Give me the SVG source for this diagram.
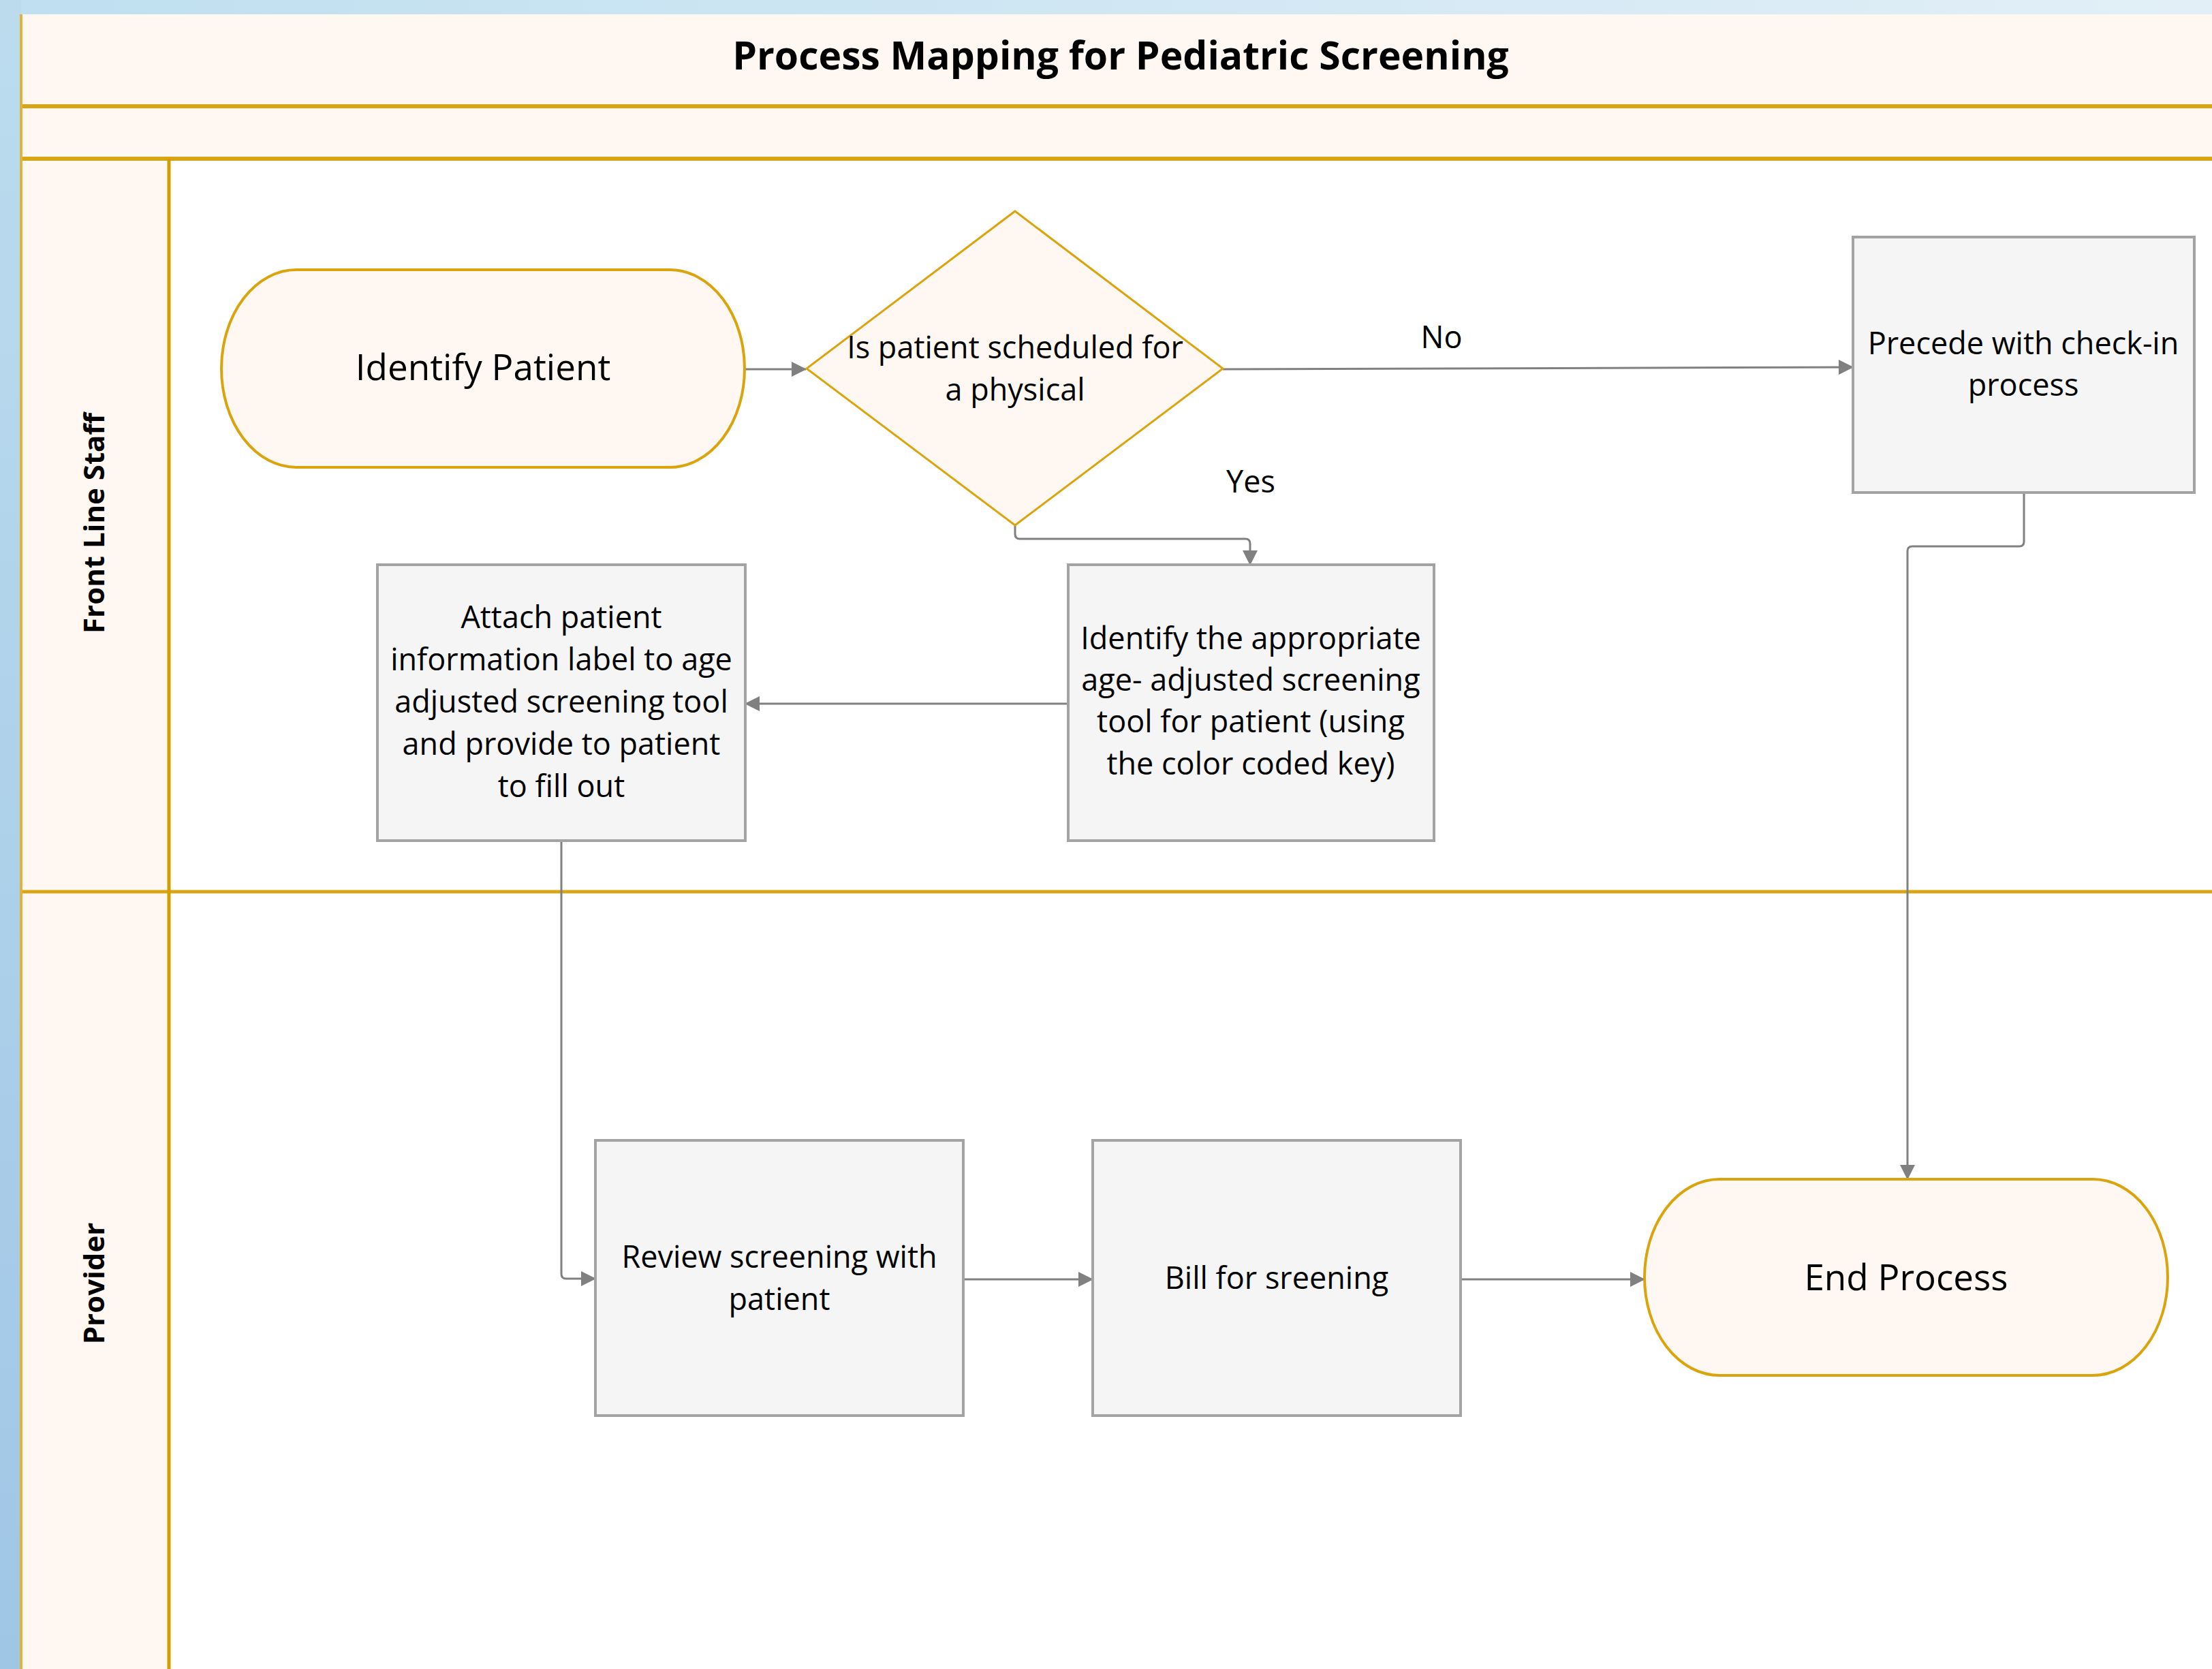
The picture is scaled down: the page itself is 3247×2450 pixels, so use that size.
<svg xmlns="http://www.w3.org/2000/svg" width="3247" height="2450" viewBox="0 0 3247 2450">
<defs>
<linearGradient id="bgTop" x1="0" y1="0" x2="1" y2="0">
<stop offset="0" stop-color="#bfdff0"/>
<stop offset="1" stop-color="#e2eff7"/>
</linearGradient>
<linearGradient id="bgLeft" x1="0" y1="0" x2="0" y2="1">
<stop offset="0" stop-color="#bcdcee"/>
<stop offset="1" stop-color="#a0c6e6"/>
</linearGradient>
<marker id="arr" markerUnits="userSpaceOnUse" markerWidth="22" markerHeight="22" refX="21" refY="11" orient="auto">
<path d="M0,0 L22,11 L0,22 z" fill="#808080"/>
</marker>
<style>
.cream{fill:#fff8f2}
.gold{stroke:#d9a514;fill:none}
.term{fill:#fff8f2;stroke:#d9a40e;stroke-width:4}
.box{fill:#f5f5f5;stroke:#a3a3a3;stroke-width:4}
.t{font-family:"Open Sans","Liberation Sans",sans-serif;fill:#000;text-anchor:middle}
.big{font-size:53px}
.mid{font-size:45px}
.bold{font-weight:700}
.conn{fill:none;stroke:#808080;stroke-width:3;marker-end:url(#arr)}
</style>
</defs>
<rect x="0" y="0" width="3247" height="21" fill="url(#bgTop)"/>
<rect x="0" y="0" width="31" height="2450" fill="url(#bgLeft)"/>
<g id="frame">
<rect x="31" y="21" width="3216" height="2429" class="cream"/>
<rect x="250" y="236" width="2997" height="2214" fill="#ffffff"/>
<line x1="31" y1="156" x2="3247" y2="156" class="gold" stroke-width="6"/>
<line x1="31" y1="233" x2="3247" y2="233" class="gold" stroke-width="6"/>
<line x1="31" y1="1309" x2="3247" y2="1309" class="gold" stroke-width="5"/>
<line x1="248" y1="233" x2="248" y2="2450" stroke="#d39e00" stroke-width="5"/>
<line x1="31" y1="21" x2="31" y2="2450" stroke="#e0b43c" stroke-width="4"/>
<text x="1645" y="102" class="t bold" font-size="57">Process Mapping for Pediatric Screening</text>
<text transform="translate(153,768) rotate(-90)" class="t bold" font-size="42">Front Line Staff</text>
<text transform="translate(153,1884) rotate(-90)" class="t bold" font-size="42">Provider</text>
</g>
<g id="connectors">
<path class="conn" d="M1093,542 L1183,542"/>
<path class="conn" d="M1795,542 L2720,539"/>
<path class="conn" d="M1490,771 L1490,784 Q1490,791 1497,791 L1828,791 Q1835,791 1835,798 L1835,829"/>
<path class="conn" d="M1568,1033 L1094,1033"/>
<path class="conn" d="M824,1234 L824,1870 Q824,1877 831,1877 L874,1877"/>
<path class="conn" d="M1414,1878 L1604,1878"/>
<path class="conn" d="M2144,1878 L2414,1878"/>
<path class="conn" d="M2971,723 L2971,795 Q2971,802 2964,802 L2807,802 Q2800,802 2800,809 L2800,1731"/>
<text x="2116" y="511" class="t mid">No</text>
<text x="1836" y="723" class="t mid">Yes</text>
</g>
<g id="identify-patient">
<rect x="325" y="396" width="768" height="290" rx="110" ry="145" class="term"/>
<text x="709" y="558" class="t big">Identify Patient</text>
</g>
<g id="decision">
<polygon points="1490,310 1795,541 1490,771 1184,541" fill="#fff8f2" stroke="#d9a40e" stroke-width="3"/>
<text class="t mid"><tspan x="1490" y="526">Is patient scheduled for</tspan><tspan x="1490" y="588">a physical</tspan></text>
</g>
<g id="check-in">
<rect x="2720" y="348" width="501" height="375" class="box"/>
<text class="t mid"><tspan x="2970" y="520">Precede with check-in</tspan><tspan x="2970" y="581">process</tspan></text>
</g>
<g id="identify-tool">
<rect x="1568" y="829" width="537" height="405" class="box"/>
<text class="t mid"><tspan x="1836" y="953">Identify the appropriate</tspan><tspan x="1836" y="1014">age- adjusted screening</tspan><tspan x="1836" y="1075">tool for patient (using</tspan><tspan x="1836" y="1137">the color coded key)</tspan></text>
</g>
<g id="attach-label">
<rect x="554" y="829" width="540" height="405" class="box"/>
<text class="t mid"><tspan x="824" y="922">Attach patient</tspan><tspan x="824" y="984">information label to age</tspan><tspan x="824" y="1046">adjusted screening tool</tspan><tspan x="824" y="1108">and provide to patient</tspan><tspan x="824" y="1170">to fill out</tspan></text>
</g>
<g id="review">
<rect x="874" y="1674" width="540" height="404" class="box"/>
<text class="t mid"><tspan x="1144" y="1861">Review screening with</tspan><tspan x="1144" y="1923">patient</tspan></text>
</g>
<g id="bill">
<rect x="1604" y="1674" width="540" height="404" class="box"/>
<text x="1874" y="1892" class="t mid">Bill for sreening</text>
</g>
<g id="end-process">
<rect x="2414" y="1731" width="768" height="288" rx="110" ry="144" class="term"/>
<text x="2798" y="1894" class="t big">End Process</text>
</g>
</svg>
